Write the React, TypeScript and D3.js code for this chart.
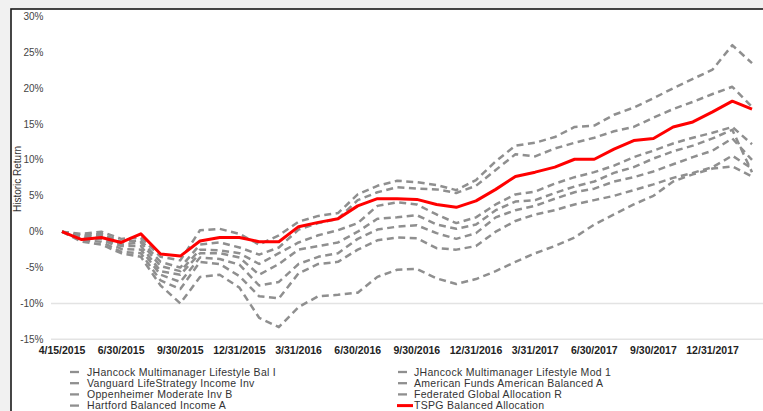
import React from "react";
import * as d3 from "d3";

const W = 763;
const H = 411;

const xLabels = [
  "4/15/2015", "6/30/2015", "9/30/2015", "12/31/2015", "3/31/2016", "6/30/2016",
  "9/30/2016", "12/31/2016", "3/31/2017", "6/30/2017", "9/30/2017", "12/31/2017",
];
const yTicks = [30, 25, 20, 15, 10, 5, 0, -5, -10, -15];
const gridValues = [-10, -15];

const tspg = [0, -1.1, -0.8, -1.5, -0.3, -3.1, -3.4, -1.3, -0.8, -0.8, -1.4, -1.4, 0.7, 1.3, 1.8, 3.6, 4.6, 4.6, 4.5, 3.8, 3.4, 4.3, 5.9, 7.7, 8.3, 9.0, 10.1, 10.1, 11.5, 12.7, 13.0, 14.6, 15.3, 16.7, 18.2, 17.1];

const jhBal = [0, -0.3, 0.0, -1.0, -0.8, -3.5, -4.0, 0.2, 0.4, -0.3, -1.8, -0.5, 1.4, 2.2, 2.6, 5.2, 6.4, 7.1, 6.9, 6.5, 5.8, 7.2, 9.8, 12.0, 12.4, 13.2, 14.6, 14.8, 16.3, 17.3, 18.6, 20.0, 21.3, 22.6, 26.0, 23.5];
const jhMod = [0, -0.5, -0.3, -1.4, -1.2, -4.2, -5.0, -1.8, -1.5, -2.2, -3.2, -2.2, 0.3, 1.2, 1.8, 4.4, 5.5, 6.2, 6.0, 5.9, 5.4, 6.4, 8.6, 10.8, 10.5, 11.6, 12.4, 13.1, 14.0, 14.6, 15.9, 17.1, 18.1, 19.2, 20.2, 17.4];
const vanguard = [0, -0.6, -0.5, -1.8, -1.5, -4.8, -5.5, -2.5, -2.6, -3.0, -4.5, -3.0, -1.5, -0.5, 0.2, 1.2, 3.6, 4.1, 3.8, 2.4, 1.2, 2.0, 3.8, 5.2, 5.6, 6.7, 7.6, 8.3, 9.2, 10.4, 11.3, 12.3, 13.1, 13.8, 14.6, 12.2];
const amBal = [0, -0.8, -0.8, -2.0, -2.0, -5.5, -6.0, -3.0, -3.0, -3.6, -6.0, -4.5, -2.5, -2.0, -1.5, 0.0, 1.8, 2.0, 2.3, 1.0, 0.4, 1.0, 3.0, 4.2, 4.4, 5.4, 6.3, 7.0, 8.2, 9.0, 10.2, 11.2, 12.0, 13.0, 14.2, 8.3];
const oppen = [0, -1.0, -1.0, -2.4, -2.5, -6.0, -7.0, -3.6, -3.8, -4.6, -7.5, -7.0, -4.5, -3.5, -3.0, -1.0, 0.3, 0.7, 0.9, -0.2, -1.0, -0.2, 2.0, 3.0, 3.6, 4.6, 5.5, 6.0, 7.0, 7.6, 8.4, 9.4, 10.4, 11.3, 13.0, 10.0];
const federated = [0, -1.2, -1.4, -2.8, -3.0, -6.8, -8.0, -4.2, -4.5, -6.2, -9.0, -9.3, -5.8, -4.5, -4.2, -2.5, -1.2, -0.8, -0.9, -2.3, -2.5, -2.0, 0.0, 1.5, 2.4, 3.0, 3.8, 4.4, 5.0, 5.8, 6.6, 7.5, 8.2, 9.0, 10.6, 8.8];
const hartford = [0, -1.4, -1.8, -3.0, -3.5, -7.5, -10.0, -6.3, -6.0, -7.8, -12.0, -13.3, -10.5, -9.0, -8.8, -8.5, -6.3, -5.3, -5.2, -6.5, -7.3, -6.6, -5.5, -4.2, -3.0, -2.0, -0.8, 1.0, 2.4, 3.8, 5.0, 7.0, 8.0, 8.8, 9.1, 7.7];

const grayNames = [
  "JHancock Multimanager Lifestyle Bal I",
  "JHancock Multimanager Lifestyle Mod 1",
  "Vanguard LifeStrategy Income Inv",
  "American Funds American Balanced A",
  "Oppenheimer Moderate Inv B",
  "Federated Global Allocation R",
  "Hartford Balanced Income A",
];
const redName = "TSPG Balanced Allocation";
const graySeries = [jhBal, jhMod, vanguard, amBal, oppen, federated, hartford];

const GRAY = "#8f8f8f";
const RED = "#ff0000";

export default function App() {
  const x = d3.scaleLinear().domain([0, tspg.length - 1]).range([62, 752]);
  const y = d3.scaleLinear().domain([-15, 30]).range([339.3, 16.5]);
  const line = d3
    .line<number>()
    .x((_, i) => x(i))
    .y((d) => y(d));

  const legendItems = [
    { name: grayNames[0], col: 0, row: 0, red: false },
    { name: grayNames[1], col: 1, row: 0, red: false },
    { name: grayNames[2], col: 0, row: 1, red: false },
    { name: grayNames[3], col: 1, row: 1, red: false },
    { name: grayNames[4], col: 0, row: 2, red: false },
    { name: grayNames[5], col: 1, row: 2, red: false },
    { name: grayNames[6], col: 0, row: 3, red: false },
    { name: redName, col: 1, row: 3, red: true },
  ];

  const font = "'Liberation Sans', Arial, sans-serif";

  return (
    <svg
      width={W}
      height={H}
      style={{ position: "absolute", left: 0, top: 0 }}
      fontFamily={font}
    >
      <rect x={0} y={0} width={W} height={H} fill="#f1f1f1" />
      <rect x={11} y={9} width={W + 20} height={H + 20} fill="#ffffff" stroke="#1a1a1a" strokeWidth={1.6} />

      {gridValues.map((v) => (
        <line key={v} x1={51} x2={W} y1={y(v)} y2={y(v)} stroke="#e3e3e3" strokeWidth={1.6} />
      ))}

      {yTicks.map((v) => (
        <text key={v} x={43.5} y={y(v)} dy="0.35em" textAnchor="end" fontSize={10} fill="#444">
          {`${v}%`}
        </text>
      ))}

      <text
        transform={`translate(20.5,${179}) rotate(-90)`}
        textAnchor="middle"
        fontSize={10}
        fill="#333"
      >
        Historic Return
      </text>

      {xLabels.map((t, k) => (
        <text key={t} x={x(k * 3)} y={354} textAnchor="middle" fontSize={10.5} fontWeight="bold" fill="#222">
          {t}
        </text>
      ))}

      {graySeries.map((s, i) => (
        <path
          key={i}
          d={line(s) || ""}
          fill="none"
          stroke={GRAY}
          strokeWidth={2.5}
          strokeDasharray="7,4.5"
          strokeLinejoin="round"
        />
      ))}
      <path d={line(tspg) || ""} fill="none" stroke={RED} strokeWidth={3} strokeLinejoin="round" />

      {legendItems.map((it) => {
        const ly = 372 + it.row * 11.2;
        const mx = it.col === 0 ? 70 : 398;
        const tx = it.col === 0 ? 87 : 414;
        return (
          <g key={it.name}>
            {it.red ? (
              <line x1={mx - 1} x2={mx + 15} y1={ly} y2={ly} stroke={RED} strokeWidth={3} />
            ) : (
              <line x1={mx} x2={mx + 9} y1={ly} y2={ly} stroke={GRAY} strokeWidth={2.3} />
            )}
            <text x={tx} y={ly} dy="0.35em" fontSize={10.5} letterSpacing={0.3} fill="#333">
              {it.name}
            </text>
          </g>
        );
      })}
    </svg>
  );
}
